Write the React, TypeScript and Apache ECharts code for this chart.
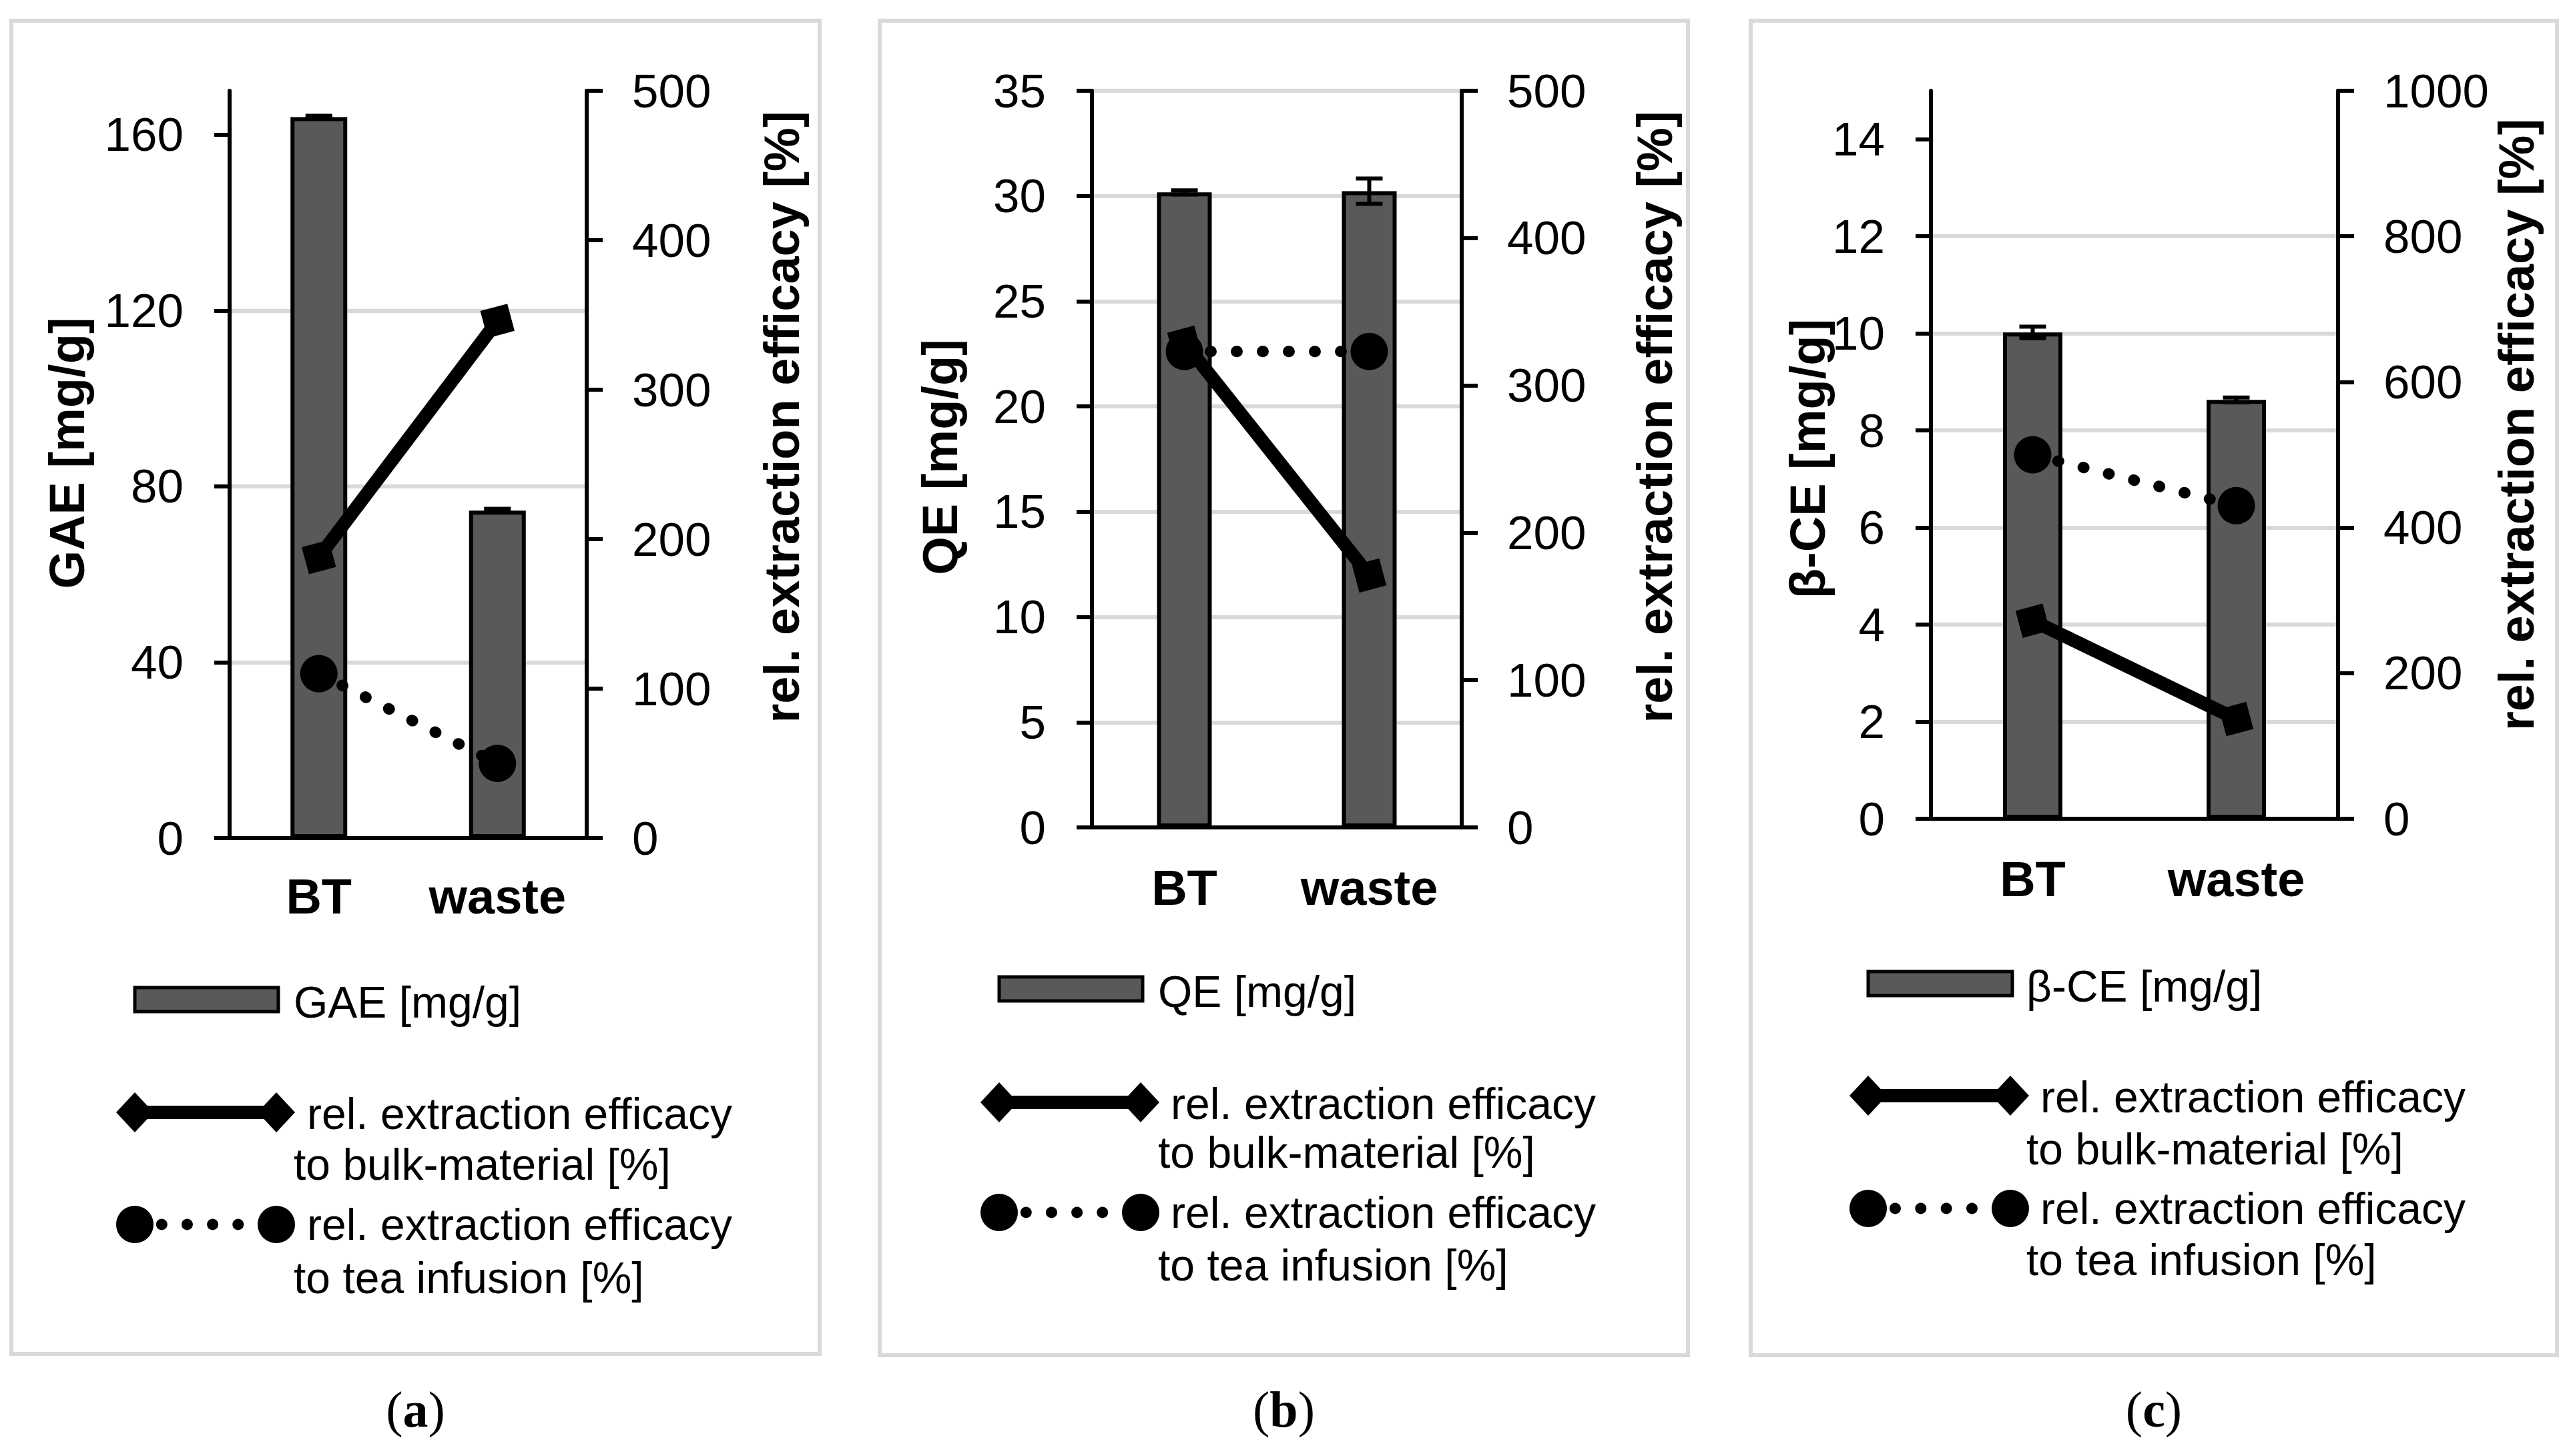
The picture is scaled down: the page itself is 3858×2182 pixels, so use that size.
import { useEffect, useRef } from "react";
import * as echarts from "echarts";

const categories = ["BT", "waste"];

// (a) GAE
const gaeValues = [164, 74.5];
const gaeErrors = [0.3, 0.4];
const gaeBulk = [188, 346];
const gaeTea = [110, 50];
const gaeTicks = [0, 40, 80, 120, 160];

// (b) QE
const qeValues = [30.17, 30.23];
const qeErrors = [0.1, 0.6];
const qeBulk = [329, 171];
const qeTea = [323, 323];
const qeTicks = [0, 5, 10, 15, 20, 25, 30, 35];

// (c) beta-CE
const bceValues = [10.02, 8.63];
const bceErrors = [0.12, 0.05];
const bceBulk = [272, 137];
const bceTea = [500, 430];
const bceTicks = [0, 2, 4, 6, 8, 10, 12, 14];

const effTicks500 = [0, 100, 200, 300, 400, 500];
const effTicks1000 = [0, 200, 400, 600, 800, 1000];

const bulkLabel = ["rel. extraction efficacy", "to bulk-material [%]"];
const teaLabel = ["rel. extraction efficacy", "to tea infusion [%]"];
const rightName = "rel. extraction efficacy [%]";

const SANS = "'Liberation Sans', Arial, sans-serif";
const SERIF = "'Liberation Serif', 'DejaVu Serif', serif";

const panels = [
  {
    tag: "a",
    name: "GAE [mg/g]",
    values: gaeValues,
    errors: gaeErrors,
    bulk: gaeBulk,
    tea: gaeTea,
    ticks: gaeTicks,
    leftMax: 170,
    rightTicks: effTicks500,
    box: { x: 17, y: 31, w: 1211, h: 1998 },
    grid: { left: 344, top: 136, width: 535, height: 1120 },
    barWidth: 85,
    leftGap: 207,
    leftShift: 17,
    rightGap: 255,
    rightShift: 71,
    catMargin: 50,
    legend: { iconL: 202, iconR: 414, text1: 460, text2: 440, y: [1498, 1667, 1745, 1835, 1915] },
  },
  {
    tag: "b",
    name: "QE [mg/g]",
    values: qeValues,
    errors: qeErrors,
    bulk: qeBulk,
    tea: qeTea,
    ticks: qeTicks,
    leftMax: 35,
    rightTicks: effTicks500,
    box: { x: 1318, y: 31, w: 1211, h: 2000 },
    grid: { left: 1636, top: 136, width: 554, height: 1104 },
    barWidth: 82,
    leftGap: 191,
    leftShift: 3,
    rightGap: 252,
    rightShift: 63,
    catMargin: 53,
    legend: { iconL: 1497, iconR: 1709, text1: 1754, text2: 1735, y: [1482, 1652, 1727, 1817, 1896] },
  },
  {
    tag: "c",
    name: "β-CE [mg/g]",
    values: bceValues,
    errors: bceErrors,
    bulk: bceBulk,
    tea: bceTea,
    ticks: bceTicks,
    leftMax: 15,
    rightTicks: effTicks1000,
    box: { x: 2623, y: 31, w: 1208, h: 2000 },
    grid: { left: 2893, top: 136, width: 610, height: 1091 },
    barWidth: 89,
    leftGap: 148,
    leftShift: -6,
    rightGap: 230,
    rightShift: 45,
    catMargin: 53,
    legend: { iconL: 2799, iconR: 3012, text1: 3057, text2: 3036, y: [1474, 1642, 1722, 1811, 1888] },
  },
];

function shiftPadding(shift: number) {
  // rotated names: left padding moves the text up, right padding moves it down
  return shift >= 0 ? [0, 0, 0, 2 * shift] : [0, -2 * shift, 0, 0];
}

function legendGraphics(p: (typeof panels)[number]) {
  const { iconL, iconR, text1, text2, y } = p.legend;
  const txt = (x: number, yy: number, s: string) => ({
    type: "text",
    x,
    y: yy,
    style: { text: s, fill: "#000", font: `66px ${SANS}`, align: "left", verticalAlign: "middle" },
  });
  const diamond = (cx: number, cy: number) => ({
    type: "polygon",
    shape: { points: [[cx - 28, cy], [cx, cy - 30], [cx + 28, cy], [cx, cy + 30]] },
    style: { fill: "#000" },
  });
  const dot = (cx: number, cy: number, r: number) => ({
    type: "circle",
    shape: { cx, cy, r },
    style: { fill: "#000" },
  });
  const span = iconR - iconL;
  return [
    {
      type: "rect",
      shape: { x: iconL, y: y[0] - 18, width: span + 3, height: 36 },
      style: { fill: "#595959", stroke: "#000", lineWidth: 5 },
    },
    txt(text2, y[0] + 4, p.name),
    {
      type: "line",
      shape: { x1: iconL, y1: y[1], x2: iconR, y2: y[1] },
      style: { stroke: "#000", lineWidth: 20 },
    },
    diamond(iconL, y[1]),
    diamond(iconR, y[1]),
    txt(text1, y[1] + 2, bulkLabel[0]),
    txt(text2, y[2], bulkLabel[1]),
    dot(iconL, y[3], 28),
    ...[0.19, 0.37, 0.55, 0.73].map((f) => dot(iconL + span * f, y[3], 8.5)),
    dot(iconR, y[3], 28),
    txt(text1, y[3], teaLabel[0]),
    txt(text2, y[4], teaLabel[1]),
  ];
}

function buildOption() {
  const grid: any[] = [];
  const xAxis: any[] = [];
  const yAxis: any[] = [];
  const series: any[] = [];
  const graphic: any[] = [];

  panels.forEach((p, i) => {
    grid.push({ ...p.grid, containLabel: false, outerBoundsMode: "none" });

    xAxis.push({
      type: "category",
      gridIndex: i,
      data: categories,
      axisLine: { show: true, lineStyle: { color: "#000", width: 6 } },
      axisTick: { show: false },
      axisLabel: {
        color: "#000",
        fontFamily: SANS,
        fontWeight: "bold",
        fontSize: 74,
        margin: p.catMargin,
      },
      splitLine: { show: false },
    });

    const lastTick = p.ticks[p.ticks.length - 1];
    yAxis.push({
      type: "value",
      gridIndex: i,
      position: "left",
      min: 0,
      max: p.leftMax,
      interval: p.ticks[1] - p.ticks[0],
      name: p.name,
      nameLocation: "middle",
      nameRotate: 90,
      nameGap: p.leftGap,
      nameMoveOverlap: false,
      nameTextStyle: {
        color: "#000",
        fontFamily: SANS,
        fontWeight: "bold",
        fontSize: 74,
        padding: shiftPadding(p.leftShift),
      },
      axisLine: { show: true, lineStyle: { color: "#000", width: 6 } },
      axisTick: {
        show: true,
        length: 23,
        customValues: p.ticks,
        lineStyle: { color: "#000", width: 6 },
      },
      axisLabel: {
        customValues: p.ticks,
        formatter: (v: number) => String(v),
        color: "#000",
        fontFamily: SANS,
        fontSize: 71,
        margin: 69,
      },
      splitLine: {
        show: true,
        showMaxLine: p.leftMax === lastTick,
        lineStyle: { color: "#d9d9d9", width: 6 },
      },
    });

    const rMax = p.rightTicks[p.rightTicks.length - 1];
    yAxis.push({
      type: "value",
      gridIndex: i,
      position: "right",
      min: 0,
      max: rMax,
      interval: p.rightTicks[1] - p.rightTicks[0],
      name: rightName,
      nameLocation: "middle",
      nameRotate: 90,
      nameGap: p.rightGap,
      nameMoveOverlap: false,
      nameTextStyle: {
        color: "#000",
        fontFamily: SANS,
        fontWeight: "bold",
        fontSize: 74,
        padding: shiftPadding(p.rightShift),
      },
      axisLine: { show: true, lineStyle: { color: "#000", width: 6 } },
      axisTick: { show: true, length: 24, lineStyle: { color: "#000", width: 6 } },
      axisLabel: {
        formatter: (v: number) => String(v),
        color: "#000",
        fontFamily: SANS,
        fontSize: 71,
        margin: 68,
      },
      splitLine: { show: false },
    });

    series.push({
      type: "bar",
      xAxisIndex: i,
      yAxisIndex: 2 * i,
      data: p.values,
      barWidth: p.barWidth,
      itemStyle: { color: "#595959", borderColor: "#000", borderWidth: 6 },
      z: 2,
    });

    series.push({
      type: "custom",
      xAxisIndex: i,
      yAxisIndex: 2 * i,
      data: p.values.map((v, k) => [k, v, p.errors[k]]),
      encode: { x: 0, y: 1 },
      z: 3,
      renderItem: (_params: any, api: any) => {
        const x = api.value(0);
        const v = api.value(1);
        const e = api.value(2);
        const hi = api.coord([x, v + e]);
        const lo = api.coord([x, v - e]);
        const half = 20;
        const st = { stroke: "#000", lineWidth: 6 };
        return {
          type: "group",
          children: [
            { type: "line", shape: { x1: hi[0], y1: hi[1], x2: lo[0], y2: lo[1] }, style: st },
            { type: "line", shape: { x1: hi[0] - half, y1: hi[1], x2: hi[0] + half, y2: hi[1] }, style: st },
            { type: "line", shape: { x1: lo[0] - half, y1: lo[1], x2: lo[0] + half, y2: lo[1] }, style: st },
          ],
        };
      },
    });

    series.push({
      type: "line",
      xAxisIndex: i,
      yAxisIndex: 2 * i + 1,
      data: p.bulk,
      symbol: "rect",
      symbolSize: 42,
      symbolRotate: 15,
      lineStyle: { color: "#000", width: 20 },
      itemStyle: { color: "#000" },
      z: 4,
    });

    series.push({
      type: "line",
      xAxisIndex: i,
      yAxisIndex: 2 * i + 1,
      data: p.tea,
      symbol: "circle",
      symbolSize: 56,
      lineStyle: { color: "#000", width: 17, type: [1, 38], cap: "round" },
      itemStyle: { color: "#000" },
      z: 5,
    });

    graphic.push({
      type: "rect",
      shape: { x: p.box.x, y: p.box.y, width: p.box.w, height: p.box.h },
      style: { fill: "none", stroke: "#d9d9d9", lineWidth: 6 },
      z: -10,
    });
    graphic.push(...legendGraphics(p));
    graphic.push({
      type: "text",
      x: p.box.x + p.box.w / 2,
      y: 2112,
      style: {
        text: `({b|${p.tag}})`,
        fill: "#000",
        font: `76px ${SERIF}`,
        align: "center",
        verticalAlign: "middle",
        rich: { b: { fontWeight: "bold", fontSize: 76, fontFamily: SERIF } },
      },
    });
  });

  return {
    animation: false,
    backgroundColor: "#fff",
    grid,
    xAxis,
    yAxis,
    series,
    graphic: { elements: graphic },
  };
}

export default function App() {
  const chartRef = useRef<HTMLDivElement>(null);

  useEffect(() => {
    if (!chartRef.current) return;
    const chart = echarts.init(chartRef.current, null, { renderer: "svg" });
    chart.setOption(buildOption() as any);
    return () => {
      chart.dispose();
    };
  }, []);

  return (
    <div
      ref={chartRef}
      style={{ position: "fixed", left: 0, top: 0, width: 3858, height: 2182, background: "#fff" }}
    />
  );
}
